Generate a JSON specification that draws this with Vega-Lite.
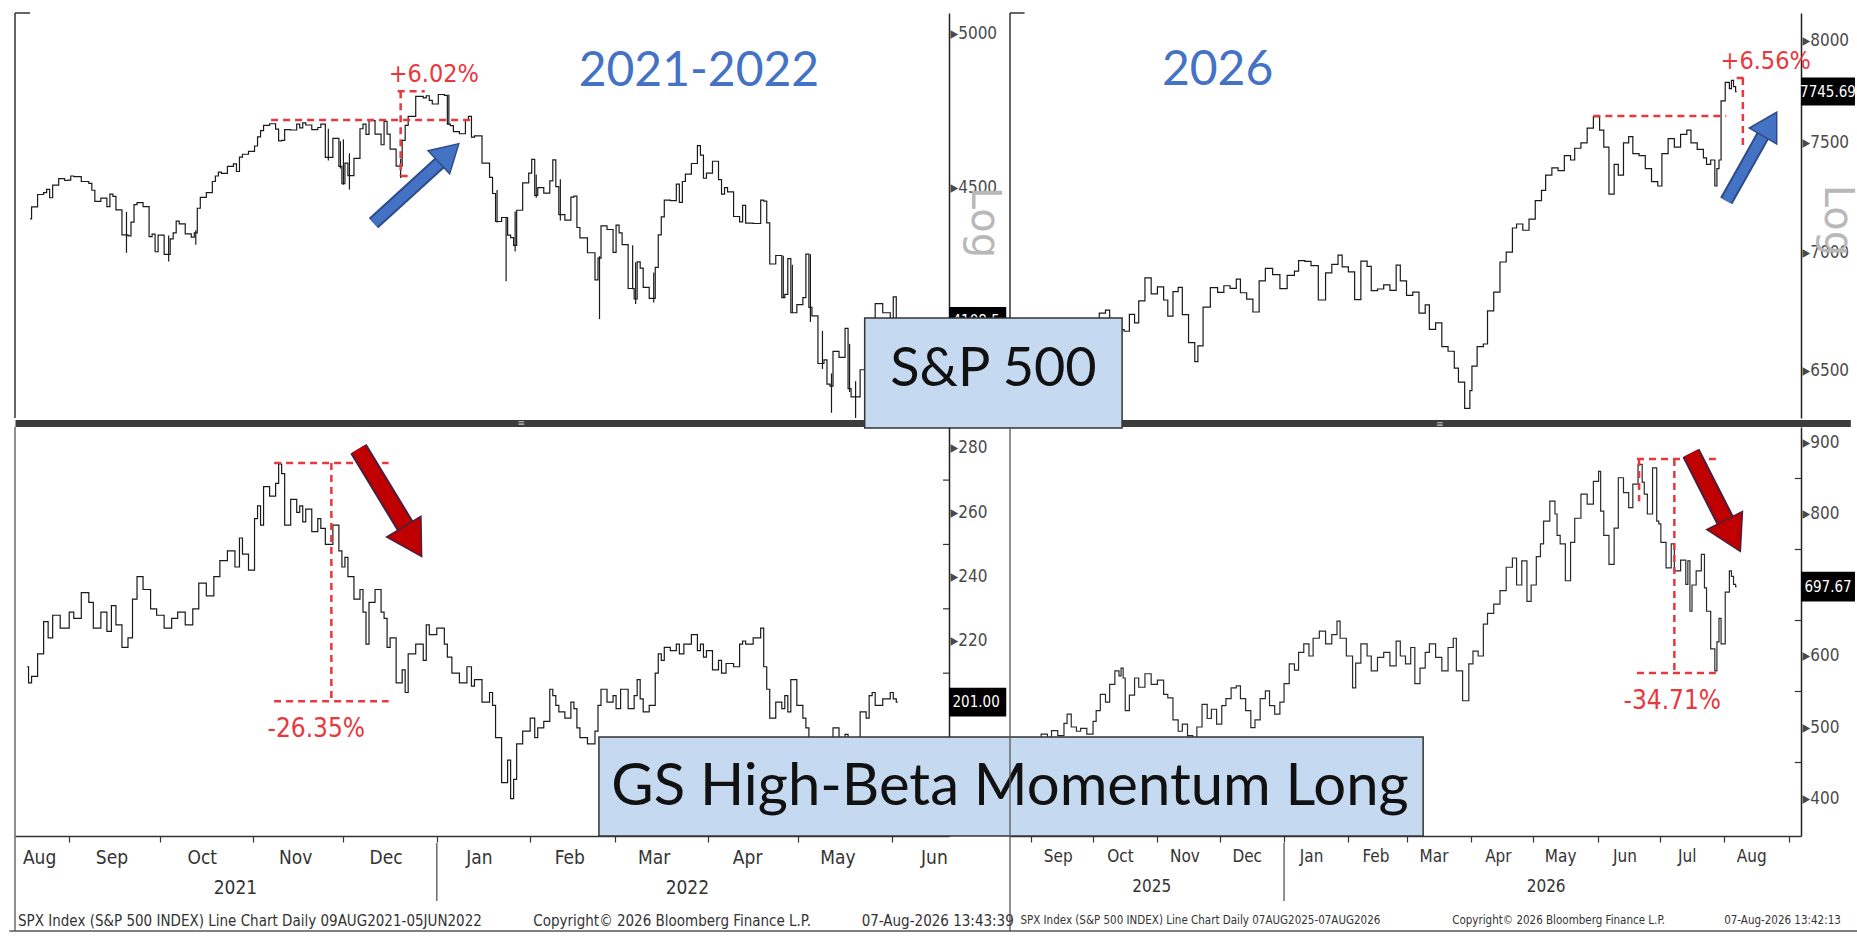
{
  "$schema": "https://vega.github.io/schema/vega-lite/v6.json",
  "background": "white",
  "padding": {"left": 8, "top": 12, "right": 0, "bottom": 0},
  "autosize": {"type": "pad"},
  "config": {"view": {"stroke": null}, "axis": {"grid": false, "labelOverlap": false}},
  "datasets": {
    "spx21": [
      {"d":"2021-08-19","v":4406},{"d":"2021-08-20","v":4442},{"d":"2021-08-23","v":4480},{"d":"2021-08-24","v":4486},{"d":"2021-08-25","v":4496},{"d":"2021-08-26","v":4470},{"d":"2021-08-27","v":4509},{"d":"2021-08-30","v":4529},{"d":"2021-08-31","v":4523},
      {"d":"2021-09-01","v":4524},{"d":"2021-09-02","v":4537},{"d":"2021-09-03","v":4535},{"d":"2021-09-07","v":4520},{"d":"2021-09-08","v":4514},{"d":"2021-09-09","v":4493},{"d":"2021-09-10","v":4459},{"d":"2021-09-13","v":4469},{"d":"2021-09-14","v":4443},{"d":"2021-09-15","v":4481},{"d":"2021-09-16","v":4474},{"d":"2021-09-17","v":4433},{"d":"2021-09-20","v":4358},{"d":"2021-09-21","v":4355},{"d":"2021-09-22","v":4396},{"d":"2021-09-23","v":4449},{"d":"2021-09-24","v":4455},{"d":"2021-09-27","v":4443},{"d":"2021-09-28","v":4353},{"d":"2021-09-29","v":4360},{"d":"2021-09-30","v":4308},
      {"d":"2021-10-01","v":4357},{"d":"2021-10-04","v":4300},{"d":"2021-10-05","v":4346},{"d":"2021-10-06","v":4364},{"d":"2021-10-07","v":4399},{"d":"2021-10-08","v":4391},{"d":"2021-10-11","v":4361},{"d":"2021-10-12","v":4351},{"d":"2021-10-13","v":4364},{"d":"2021-10-14","v":4438},{"d":"2021-10-15","v":4471},{"d":"2021-10-18","v":4486},{"d":"2021-10-19","v":4520},{"d":"2021-10-20","v":4537},{"d":"2021-10-21","v":4549},{"d":"2021-10-22","v":4545},{"d":"2021-10-25","v":4567},{"d":"2021-10-26","v":4575},{"d":"2021-10-27","v":4551},{"d":"2021-10-28","v":4596},{"d":"2021-10-29","v":4605},
      {"d":"2021-11-01","v":4614},{"d":"2021-11-02","v":4631},{"d":"2021-11-03","v":4660},{"d":"2021-11-04","v":4680},{"d":"2021-11-05","v":4697},{"d":"2021-11-08","v":4702},{"d":"2021-11-09","v":4685},{"d":"2021-11-10","v":4647},{"d":"2021-11-11","v":4649},{"d":"2021-11-12","v":4683},{"d":"2021-11-15","v":4682},{"d":"2021-11-16","v":4701},{"d":"2021-11-17","v":4689},{"d":"2021-11-18","v":4705},{"d":"2021-11-19","v":4698},{"d":"2021-11-22","v":4683},{"d":"2021-11-23","v":4690},{"d":"2021-11-24","v":4701},{"d":"2021-11-26","v":4595},{"d":"2021-11-29","v":4655},{"d":"2021-11-30","v":4567},
      {"d":"2021-12-01","v":4513},{"d":"2021-12-02","v":4577},{"d":"2021-12-03","v":4538},{"d":"2021-12-06","v":4592},{"d":"2021-12-07","v":4686},{"d":"2021-12-08","v":4701},{"d":"2021-12-09","v":4668},{"d":"2021-12-10","v":4712},{"d":"2021-12-13","v":4669},{"d":"2021-12-14","v":4635},{"d":"2021-12-15","v":4710},{"d":"2021-12-16","v":4669},{"d":"2021-12-17","v":4621},{"d":"2021-12-20","v":4568},{"d":"2021-12-21","v":4649},{"d":"2021-12-22","v":4697},{"d":"2021-12-23","v":4726},{"d":"2021-12-27","v":4791},{"d":"2021-12-28","v":4786},{"d":"2021-12-29","v":4793},{"d":"2021-12-30","v":4778},{"d":"2021-12-31","v":4766},
      {"d":"2022-01-03","v":4797},{"d":"2022-01-04","v":4794},{"d":"2022-01-05","v":4701},{"d":"2022-01-06","v":4696},{"d":"2022-01-07","v":4677},{"d":"2022-01-10","v":4670},{"d":"2022-01-11","v":4713},{"d":"2022-01-12","v":4726},{"d":"2022-01-13","v":4659},{"d":"2022-01-14","v":4663},{"d":"2022-01-18","v":4577},{"d":"2022-01-19","v":4533},{"d":"2022-01-20","v":4483},{"d":"2022-01-21","v":4398},{"d":"2022-01-24","v":4410},{"d":"2022-01-25","v":4357},{"d":"2022-01-26","v":4350},{"d":"2022-01-27","v":4327},{"d":"2022-01-28","v":4432},{"d":"2022-01-31","v":4516},
      {"d":"2022-02-01","v":4546},{"d":"2022-02-02","v":4589},{"d":"2022-02-03","v":4477},{"d":"2022-02-04","v":4501},{"d":"2022-02-07","v":4484},{"d":"2022-02-08","v":4522},{"d":"2022-02-09","v":4587},{"d":"2022-02-10","v":4504},{"d":"2022-02-11","v":4419},{"d":"2022-02-14","v":4402},{"d":"2022-02-15","v":4472},{"d":"2022-02-16","v":4475},{"d":"2022-02-17","v":4380},{"d":"2022-02-18","v":4349},{"d":"2022-02-22","v":4305},{"d":"2022-02-23","v":4226},{"d":"2022-02-24","v":4289},{"d":"2022-02-25","v":4385},{"d":"2022-02-28","v":4374},
      {"d":"2022-03-01","v":4306},{"d":"2022-03-02","v":4387},{"d":"2022-03-03","v":4364},{"d":"2022-03-04","v":4329},{"d":"2022-03-07","v":4201},{"d":"2022-03-08","v":4171},{"d":"2022-03-09","v":4278},{"d":"2022-03-10","v":4260},{"d":"2022-03-11","v":4204},{"d":"2022-03-14","v":4173},{"d":"2022-03-15","v":4262},{"d":"2022-03-16","v":4358},{"d":"2022-03-17","v":4412},{"d":"2022-03-18","v":4463},{"d":"2022-03-21","v":4461},{"d":"2022-03-22","v":4512},{"d":"2022-03-23","v":4456},{"d":"2022-03-24","v":4520},{"d":"2022-03-25","v":4543},{"d":"2022-03-28","v":4576},{"d":"2022-03-29","v":4632},{"d":"2022-03-30","v":4602},{"d":"2022-03-31","v":4530},
      {"d":"2022-04-01","v":4546},{"d":"2022-04-04","v":4583},{"d":"2022-04-05","v":4526},{"d":"2022-04-06","v":4481},{"d":"2022-04-07","v":4501},{"d":"2022-04-08","v":4488},{"d":"2022-04-11","v":4413},{"d":"2022-04-12","v":4397},{"d":"2022-04-13","v":4447},{"d":"2022-04-14","v":4393},{"d":"2022-04-18","v":4392},{"d":"2022-04-19","v":4463},{"d":"2022-04-20","v":4460},{"d":"2022-04-21","v":4394},{"d":"2022-04-22","v":4272},{"d":"2022-04-25","v":4297},{"d":"2022-04-26","v":4175},{"d":"2022-04-27","v":4184},{"d":"2022-04-28","v":4288},{"d":"2022-04-29","v":4132},
      {"d":"2022-05-02","v":4155},{"d":"2022-05-03","v":4175},{"d":"2022-05-04","v":4301},{"d":"2022-05-05","v":4147},{"d":"2022-05-06","v":4123},{"d":"2022-05-09","v":3991},{"d":"2022-05-10","v":4001},{"d":"2022-05-11","v":3935},{"d":"2022-05-12","v":3930},{"d":"2022-05-13","v":4024},{"d":"2022-05-16","v":4008},{"d":"2022-05-17","v":4088},{"d":"2022-05-18","v":3923},{"d":"2022-05-19","v":3901},{"d":"2022-05-20","v":3901},{"d":"2022-05-23","v":3974},{"d":"2022-05-24","v":3941},{"d":"2022-05-25","v":3979},{"d":"2022-05-26","v":4058},{"d":"2022-05-27","v":4158},{"d":"2022-05-31","v":4132},
      {"d":"2022-06-01","v":4101},{"d":"2022-06-02","v":4177},{"d":"2022-06-03","v":4108.5}
    ],
    "spx21range": [
      {"d":"2021-09-20","v":4305,"v2":4427},{"d":"2021-10-04","v":4279,"v2":4356},{"d":"2021-10-13","v":4329,"v2":4372},{"d":"2021-11-26","v":4585,"v2":4686},{"d":"2021-11-30","v":4560,"v2":4646},{"d":"2021-12-01","v":4510,"v2":4652},{"d":"2021-12-03","v":4495,"v2":4608},{"d":"2021-12-20","v":4531,"v2":4591},
      {"d":"2022-01-05","v":4700,"v2":4797},{"d":"2022-01-21","v":4395,"v2":4494},{"d":"2022-01-24","v":4222,"v2":4411},{"d":"2022-01-27","v":4309,"v2":4428},{"d":"2022-02-03","v":4470,"v2":4542},{"d":"2022-02-11","v":4401,"v2":4527},{"d":"2022-02-24","v":4114,"v2":4295},{"d":"2022-03-07","v":4199,"v2":4327},{"d":"2022-03-08","v":4157,"v2":4277},{"d":"2022-03-14","v":4161,"v2":4247},
      {"d":"2022-04-26","v":4175,"v2":4296},{"d":"2022-04-29","v":4131,"v2":4270},{"d":"2022-05-05","v":4106,"v2":4301},{"d":"2022-05-09","v":3976,"v2":4081},{"d":"2022-05-12","v":3859,"v2":3964},{"d":"2022-05-18","v":3914,"v2":4045},{"d":"2022-05-20","v":3810,"v2":3943},{"d":"2022-05-26","v":3967,"v2":4076}
    ],
    "gs21": [
      {"d":"2021-08-18","v":212},{"d":"2021-08-19","v":207},{"d":"2021-08-20","v":209},{"d":"2021-08-23","v":216},{"d":"2021-08-24","v":226},{"d":"2021-08-26","v":221},{"d":"2021-08-27","v":228},{"d":"2021-08-31","v":224},
      {"d":"2021-09-02","v":229},{"d":"2021-09-03","v":227},{"d":"2021-09-07","v":235},{"d":"2021-09-08","v":232},{"d":"2021-09-10","v":224},{"d":"2021-09-13","v":229},{"d":"2021-09-14","v":223},{"d":"2021-09-16","v":231},{"d":"2021-09-17","v":225},{"d":"2021-09-20","v":218},{"d":"2021-09-21","v":221},{"d":"2021-09-23","v":233},{"d":"2021-09-24","v":240},{"d":"2021-09-27","v":236},{"d":"2021-09-29","v":230},
      {"d":"2021-10-01","v":228},{"d":"2021-10-04","v":224},{"d":"2021-10-06","v":227},{"d":"2021-10-08","v":229},{"d":"2021-10-11","v":225},{"d":"2021-10-13","v":230},{"d":"2021-10-15","v":238},{"d":"2021-10-18","v":234},{"d":"2021-10-20","v":240},{"d":"2021-10-22","v":245},{"d":"2021-10-25","v":248},{"d":"2021-10-27","v":243},{"d":"2021-10-28","v":252},{"d":"2021-10-29","v":247},
      {"d":"2021-11-01","v":242},{"d":"2021-11-02","v":258},{"d":"2021-11-03","v":262},{"d":"2021-11-04","v":256},{"d":"2021-11-05","v":268},{"d":"2021-11-08","v":265},{"d":"2021-11-09","v":269},{"d":"2021-11-10","v":275},{"d":"2021-11-11","v":272},{"d":"2021-11-12","v":256},{"d":"2021-11-15","v":264},{"d":"2021-11-16","v":260},{"d":"2021-11-17","v":262},{"d":"2021-11-18","v":257},{"d":"2021-11-19","v":261},{"d":"2021-11-22","v":254},{"d":"2021-11-23","v":258},{"d":"2021-11-24","v":255},{"d":"2021-11-26","v":250},{"d":"2021-11-29","v":256},{"d":"2021-11-30","v":248},
      {"d":"2021-12-01","v":243},{"d":"2021-12-02","v":246},{"d":"2021-12-03","v":240},{"d":"2021-12-06","v":233},{"d":"2021-12-07","v":236},{"d":"2021-12-08","v":229},{"d":"2021-12-09","v":219},{"d":"2021-12-10","v":232},{"d":"2021-12-13","v":236},{"d":"2021-12-14","v":229},{"d":"2021-12-15","v":227},{"d":"2021-12-16","v":218},{"d":"2021-12-17","v":221},{"d":"2021-12-20","v":207},{"d":"2021-12-21","v":211},{"d":"2021-12-22","v":204},{"d":"2021-12-23","v":216},{"d":"2021-12-27","v":219},{"d":"2021-12-28","v":214},{"d":"2021-12-29","v":225},{"d":"2021-12-30","v":222},
      {"d":"2022-01-03","v":224},{"d":"2022-01-04","v":219},{"d":"2022-01-05","v":215},{"d":"2022-01-07","v":210},{"d":"2022-01-10","v":207},{"d":"2022-01-12","v":212},{"d":"2022-01-13","v":206},{"d":"2022-01-14","v":208},{"d":"2022-01-18","v":201},{"d":"2022-01-19","v":204},{"d":"2022-01-20","v":200},{"d":"2022-01-21","v":190},{"d":"2022-01-24","v":176},{"d":"2022-01-25","v":183},{"d":"2022-01-26","v":171},{"d":"2022-01-27","v":177},{"d":"2022-01-28","v":188},{"d":"2022-01-31","v":192},
      {"d":"2022-02-02","v":196},{"d":"2022-02-03","v":190},{"d":"2022-02-04","v":193},{"d":"2022-02-07","v":195},{"d":"2022-02-08","v":205},{"d":"2022-02-09","v":203},{"d":"2022-02-10","v":200},{"d":"2022-02-11","v":198},{"d":"2022-02-14","v":196},{"d":"2022-02-15","v":201},{"d":"2022-02-16","v":199},{"d":"2022-02-17","v":193},{"d":"2022-02-18","v":190},{"d":"2022-02-22","v":188},{"d":"2022-02-23","v":192},{"d":"2022-02-24","v":200},{"d":"2022-02-25","v":205},{"d":"2022-02-28","v":201},
      {"d":"2022-03-01","v":203},{"d":"2022-03-02","v":199},{"d":"2022-03-04","v":205},{"d":"2022-03-07","v":199},{"d":"2022-03-08","v":203},{"d":"2022-03-09","v":208},{"d":"2022-03-10","v":202},{"d":"2022-03-11","v":198},{"d":"2022-03-14","v":200},{"d":"2022-03-15","v":210},{"d":"2022-03-16","v":216},{"d":"2022-03-17","v":214},{"d":"2022-03-18","v":218},{"d":"2022-03-21","v":217},{"d":"2022-03-22","v":219},{"d":"2022-03-23","v":216},{"d":"2022-03-25","v":219},{"d":"2022-03-28","v":222},{"d":"2022-03-29","v":217},{"d":"2022-03-30","v":219},{"d":"2022-03-31","v":215},
      {"d":"2022-04-01","v":217},{"d":"2022-04-04","v":211},{"d":"2022-04-05","v":214},{"d":"2022-04-06","v":210},{"d":"2022-04-08","v":213},{"d":"2022-04-11","v":212},{"d":"2022-04-12","v":219},{"d":"2022-04-13","v":220},{"d":"2022-04-14","v":219},{"d":"2022-04-18","v":221},{"d":"2022-04-19","v":224},{"d":"2022-04-20","v":212},{"d":"2022-04-21","v":205},{"d":"2022-04-22","v":196},{"d":"2022-04-25","v":201},{"d":"2022-04-26","v":199},{"d":"2022-04-27","v":203},{"d":"2022-04-28","v":198},{"d":"2022-04-29","v":208},
      {"d":"2022-05-02","v":200},{"d":"2022-05-03","v":196},{"d":"2022-05-04","v":193},{"d":"2022-05-05","v":188},{"d":"2022-05-06","v":184},{"d":"2022-05-09","v":178},{"d":"2022-05-10","v":180},{"d":"2022-05-11","v":176},{"d":"2022-05-12","v":190},{"d":"2022-05-13","v":193},{"d":"2022-05-16","v":189},{"d":"2022-05-17","v":191},{"d":"2022-05-18","v":187},{"d":"2022-05-19","v":189},{"d":"2022-05-20","v":188},{"d":"2022-05-23","v":198},{"d":"2022-05-24","v":196},{"d":"2022-05-25","v":203},{"d":"2022-05-26","v":204},{"d":"2022-05-27","v":200},{"d":"2022-05-31","v":202},
      {"d":"2022-06-01","v":204},{"d":"2022-06-02","v":202},{"d":"2022-06-03","v":201}
    ],
    "spx26": [
      {"d":"2025-08-22","v":6467},{"d":"2025-08-26","v":6465},{"d":"2025-08-28","v":6502},{"d":"2025-09-02","v":6416},{"d":"2025-09-04","v":6502},{"d":"2025-09-08","v":6495},{"d":"2025-09-10","v":6532},{"d":"2025-09-12","v":6584},{"d":"2025-09-16","v":6607},{"d":"2025-09-18","v":6632},{"d":"2025-09-22","v":6693},{"d":"2025-09-24","v":6637},{"d":"2025-09-26","v":6644},{"d":"2025-09-30","v":6688},
      {"d":"2025-10-02","v":6715},{"d":"2025-10-06","v":6740},{"d":"2025-10-08","v":6753},{"d":"2025-10-10","v":6552},{"d":"2025-10-13","v":6654},{"d":"2025-10-15","v":6671},{"d":"2025-10-17","v":6664},{"d":"2025-10-20","v":6735},{"d":"2025-10-22","v":6699},{"d":"2025-10-24","v":6792},{"d":"2025-10-28","v":6891},{"d":"2025-10-30","v":6822},
      {"d":"2025-11-03","v":6852},{"d":"2025-11-05","v":6796},{"d":"2025-11-07","v":6728},{"d":"2025-11-10","v":6832},{"d":"2025-11-12","v":6850},{"d":"2025-11-14","v":6734},{"d":"2025-11-18","v":6617},{"d":"2025-11-20","v":6538},{"d":"2025-11-21","v":6603},{"d":"2025-11-25","v":6766},{"d":"2025-11-28","v":6849},
      {"d":"2025-12-02","v":6829},{"d":"2025-12-04","v":6857},{"d":"2025-12-08","v":6846},{"d":"2025-12-10","v":6886},{"d":"2025-12-12","v":6827},{"d":"2025-12-16","v":6800},{"d":"2025-12-18","v":6745},{"d":"2025-12-22","v":6878},{"d":"2025-12-24","v":6932},{"d":"2025-12-29","v":6905},{"d":"2025-12-31","v":6845},
      {"d":"2026-01-05","v":6902},{"d":"2026-01-07","v":6920},{"d":"2026-01-09","v":6966},{"d":"2026-01-13","v":6963},{"d":"2026-01-15","v":6944},{"d":"2026-01-20","v":6796},{"d":"2026-01-22","v":6913},{"d":"2026-01-26","v":6950},{"d":"2026-01-28","v":6990},{"d":"2026-01-30","v":6939},
      {"d":"2026-02-03","v":6917},{"d":"2026-02-05","v":6798},{"d":"2026-02-09","v":6964},{"d":"2026-02-11","v":6941},{"d":"2026-02-13","v":6836},{"d":"2026-02-17","v":6843},{"d":"2026-02-19","v":6861},{"d":"2026-02-23","v":6837},{"d":"2026-02-25","v":6946},{"d":"2026-02-27","v":6878},
      {"d":"2026-03-03","v":6816},{"d":"2026-03-05","v":6830},{"d":"2026-03-09","v":6740},{"d":"2026-03-11","v":6775},{"d":"2026-03-13","v":6672},{"d":"2026-03-17","v":6699},{"d":"2026-03-19","v":6600},{"d":"2026-03-23","v":6581},{"d":"2026-03-25","v":6512},{"d":"2026-03-27","v":6455},{"d":"2026-03-31","v":6349},
      {"d":"2026-04-01","v":6420},{"d":"2026-04-02","v":6520},{"d":"2026-04-06","v":6600},{"d":"2026-04-08","v":6611},{"d":"2026-04-10","v":6750},{"d":"2026-04-14","v":6830},{"d":"2026-04-16","v":6960},{"d":"2026-04-20","v":7003},{"d":"2026-04-22","v":7110},{"d":"2026-04-24","v":7128},{"d":"2026-04-28","v":7100},{"d":"2026-04-30","v":7150},
      {"d":"2026-05-04","v":7233},{"d":"2026-05-06","v":7280},{"d":"2026-05-08","v":7350},{"d":"2026-05-12","v":7383},{"d":"2026-05-14","v":7371},{"d":"2026-05-18","v":7440},{"d":"2026-05-20","v":7420},{"d":"2026-05-22","v":7475},{"d":"2026-05-26","v":7500},{"d":"2026-05-28","v":7570},
      {"d":"2026-06-01","v":7625},{"d":"2026-06-03","v":7560},{"d":"2026-06-05","v":7480},{"d":"2026-06-08","v":7263},{"d":"2026-06-10","v":7400},{"d":"2026-06-12","v":7350},{"d":"2026-06-15","v":7500},{"d":"2026-06-17","v":7530},{"d":"2026-06-19","v":7450},{"d":"2026-06-23","v":7440},{"d":"2026-06-25","v":7380},{"d":"2026-06-29","v":7320},
      {"d":"2026-07-01","v":7300},{"d":"2026-07-03","v":7450},{"d":"2026-07-07","v":7520},{"d":"2026-07-09","v":7480},{"d":"2026-07-13","v":7540},{"d":"2026-07-15","v":7560},{"d":"2026-07-17","v":7500},{"d":"2026-07-21","v":7470},{"d":"2026-07-23","v":7430},{"d":"2026-07-24","v":7400},{"d":"2026-07-27","v":7420},{"d":"2026-07-28","v":7300},{"d":"2026-07-29","v":7380},{"d":"2026-07-30","v":7420},{"d":"2026-07-31","v":7700},
      {"d":"2026-08-03","v":7790},{"d":"2026-08-04","v":7760},{"d":"2026-08-05","v":7800},{"d":"2026-08-06","v":7770},{"d":"2026-08-07","v":7745.69}
    ],
    "gs26": [
      {"d":"2025-08-22","v":475},{"d":"2025-08-26","v":470},{"d":"2025-08-28","v":482},{"d":"2025-09-02","v":465},{"d":"2025-09-04","v":478},{"d":"2025-09-08","v":490},{"d":"2025-09-10","v":484},{"d":"2025-09-12","v":495},{"d":"2025-09-16","v":488},{"d":"2025-09-18","v":505},{"d":"2025-09-19","v":518},{"d":"2025-09-22","v":500},{"d":"2025-09-24","v":494},{"d":"2025-09-26","v":498},{"d":"2025-09-30","v":490},
      {"d":"2025-10-02","v":508},{"d":"2025-10-03","v":523},{"d":"2025-10-06","v":546},{"d":"2025-10-08","v":535},{"d":"2025-10-10","v":560},{"d":"2025-10-13","v":579},{"d":"2025-10-14","v":572},{"d":"2025-10-15","v":583},{"d":"2025-10-16","v":569},{"d":"2025-10-17","v":523},{"d":"2025-10-20","v":545},{"d":"2025-10-22","v":569},{"d":"2025-10-24","v":556},{"d":"2025-10-28","v":575},{"d":"2025-10-30","v":560},
      {"d":"2025-11-03","v":566},{"d":"2025-11-05","v":546},{"d":"2025-11-07","v":541},{"d":"2025-11-10","v":510},{"d":"2025-11-12","v":494},{"d":"2025-11-14","v":504},{"d":"2025-11-17","v":488},{"d":"2025-11-19","v":485},{"d":"2025-11-21","v":500},{"d":"2025-11-24","v":532},{"d":"2025-11-26","v":512},{"d":"2025-11-28","v":525},
      {"d":"2025-12-01","v":504},{"d":"2025-12-03","v":530},{"d":"2025-12-05","v":540},{"d":"2025-12-08","v":555},{"d":"2025-12-10","v":558},{"d":"2025-12-12","v":540},{"d":"2025-12-15","v":523},{"d":"2025-12-17","v":499},{"d":"2025-12-19","v":510},{"d":"2025-12-22","v":540},{"d":"2025-12-24","v":551},{"d":"2025-12-26","v":530},{"d":"2025-12-29","v":518},{"d":"2025-12-31","v":535},
      {"d":"2026-01-02","v":561},{"d":"2026-01-05","v":589},{"d":"2026-01-07","v":580},{"d":"2026-01-09","v":605},{"d":"2026-01-12","v":617},{"d":"2026-01-14","v":600},{"d":"2026-01-16","v":625},{"d":"2026-01-20","v":635},{"d":"2026-01-22","v":617},{"d":"2026-01-26","v":630},{"d":"2026-01-27","v":649},{"d":"2026-01-29","v":625},
      {"d":"2026-02-02","v":600},{"d":"2026-02-04","v":555},{"d":"2026-02-05","v":590},{"d":"2026-02-09","v":617},{"d":"2026-02-11","v":600},{"d":"2026-02-13","v":579},{"d":"2026-02-17","v":598},{"d":"2026-02-19","v":605},{"d":"2026-02-23","v":586},{"d":"2026-02-25","v":621},{"d":"2026-02-27","v":600},
      {"d":"2026-03-02","v":589},{"d":"2026-03-04","v":612},{"d":"2026-03-06","v":561},{"d":"2026-03-09","v":583},{"d":"2026-03-11","v":605},{"d":"2026-03-13","v":617},{"d":"2026-03-17","v":598},{"d":"2026-03-19","v":579},{"d":"2026-03-23","v":612},{"d":"2026-03-24","v":625},{"d":"2026-03-26","v":579},{"d":"2026-03-30","v":537},
      {"d":"2026-04-01","v":589},{"d":"2026-04-03","v":607},{"d":"2026-04-06","v":600},{"d":"2026-04-08","v":645},{"d":"2026-04-10","v":660},{"d":"2026-04-14","v":673},{"d":"2026-04-16","v":692},{"d":"2026-04-20","v":725},{"d":"2026-04-22","v":738},{"d":"2026-04-24","v":700},{"d":"2026-04-27","v":734},{"d":"2026-04-29","v":677},
      {"d":"2026-05-01","v":700},{"d":"2026-05-04","v":740},{"d":"2026-05-05","v":758},{"d":"2026-05-07","v":790},{"d":"2026-05-11","v":818},{"d":"2026-05-12","v":800},{"d":"2026-05-13","v":770},{"d":"2026-05-15","v":758},{"d":"2026-05-18","v":706},{"d":"2026-05-20","v":760},{"d":"2026-05-22","v":794},{"d":"2026-05-26","v":828},{"d":"2026-05-28","v":814},
      {"d":"2026-06-01","v":846},{"d":"2026-06-02","v":860},{"d":"2026-06-03","v":804},{"d":"2026-06-05","v":770},{"d":"2026-06-08","v":729},{"d":"2026-06-10","v":780},{"d":"2026-06-12","v":851},{"d":"2026-06-15","v":830},{"d":"2026-06-17","v":809},{"d":"2026-06-19","v":842},{"d":"2026-06-22","v":870},{"d":"2026-06-23","v":845},{"d":"2026-06-24","v":828},{"d":"2026-06-26","v":800},{"d":"2026-06-29","v":865},{"d":"2026-06-30","v":790},
      {"d":"2026-07-01","v":786},{"d":"2026-07-02","v":760},{"d":"2026-07-06","v":724},{"d":"2026-07-07","v":758},{"d":"2026-07-09","v":720},{"d":"2026-07-13","v":735},{"d":"2026-07-14","v":701},{"d":"2026-07-15","v":734},{"d":"2026-07-16","v":663},{"d":"2026-07-17","v":700},{"d":"2026-07-20","v":720},{"d":"2026-07-22","v":743},{"d":"2026-07-23","v":696},{"d":"2026-07-24","v":663},{"d":"2026-07-27","v":610},{"d":"2026-07-28","v":579},{"d":"2026-07-29","v":620},{"d":"2026-07-30","v":653},{"d":"2026-07-31","v":617},
      {"d":"2026-08-03","v":690},{"d":"2026-08-04","v":720},{"d":"2026-08-05","v":712},{"d":"2026-08-06","v":701},{"d":"2026-08-07","v":697.67}
    ]
  },
  "columns": 2,
  "spacing": {"column": 61, "row": 9},
  "bounds": "flush",
  "concat": [
    {
      "width": 934,
      "height": 405,
      "encoding": {
        "x": {"field": "d", "type": "temporal", "scale": {"domain": [{"year": 2021, "month": 8, "date": 14, "utc": true}, {"year": 2022, "month": 6, "date": 20, "utc": true}]},
          "axis": {"orient": "bottom", "labels": false, "ticks": false, "domainColor": "#3c3c3c", "domainWidth": 7, "offset": 5, "title": null}},
        "y": {"field": "v", "type": "quantitative", "scale": {"type": "log", "domain": [3845, 5072], "nice": false},
          "axis": {"orient": "right", "values": [4000, 4500, 5000], "format": "d", "labelExpr": "'▸' + datum.label", "ticks": false, "labelPadding": 1, "labelFont": "Liberation Sans Narrow, DejaVu Sans Condensed, sans-serif", "labelFontSize": 17, "labelColor": "#4a4a4a", "labelBaseline": "middle", "domainColor": "#222", "domainWidth": 1.5, "title": "Log", "titleFont": "DejaVu Sans", "titleFontSize": 40, "titleFontWeight": "normal", "titleColor": "#b8b8b8", "titleAngle": 90, "titleX": 34, "titleY": 209, "titleAlign": "center", "titleBaseline": "middle"}}
      },
      "layer": [
        {"data": {"name": "spx21"}, "mark": {"type": "line", "interpolate": "step", "color": "#1a1a1a", "strokeWidth": 1.2, "clip": true}},
        {"data": {"name": "spx21range"}, "mark": {"type": "rule", "color": "#1a1a1a", "strokeWidth": 1.2, "clip": true},
          "encoding": {"y2": {"field": "v2"}}},
        {"data": {"values": [{"d": "2021-08-14", "d2": "2021-08-14", "v": 3845, "v2": 5072}, {"d": "2021-08-14", "d2": "2021-08-19", "v": 5072, "v2": 5072}]},
          "mark": {"type": "rule", "color": "#333", "strokeWidth": 1.5},
          "encoding": {"x2": {"field": "d2"}, "y2": {"field": "v2"}}},
        {"data": {"values": [{"d": "2022-01-29", "v": 3832, "t": "≡"}]},
          "mark": {"type": "text", "font": "DejaVu Sans", "fontSize": 9, "color": "#bbbbbb", "align": "center", "baseline": "middle"},
          "encoding": {"text": {"field": "t"}}},
        {"data": {"values": [{"d": "2021-11-07", "d2": "2022-01-13", "v": 4714, "v2": 4714}, {"d": "2021-12-19", "d2": "2021-12-28", "v": 4808, "v2": 4808}, {"d": "2021-12-20", "d2": "2021-12-20", "v": 4808, "v2": 4537}, {"d": "2021-12-20", "d2": "2021-12-24", "v": 4537, "v2": 4537}]},
          "mark": {"type": "rule", "color": "#e8383d", "strokeWidth": 2.5, "strokeDash": [7, 5]},
          "encoding": {"x2": {"field": "d2"}, "y2": {"field": "v2"}}},
        {"data": {"values": [{"d": "2021-12-11", "d2": "2022-01-03", "v": 4393, "v2": 4587}]},
          "mark": {"type": "rule", "color": "#2e4b87", "strokeWidth": 14, "strokeCap": "butt"},
          "encoding": {"x2": {"field": "d2"}, "y2": {"field": "v2"}}},
        {"data": {"values": [{"d": "2021-12-11", "d2": "2022-01-03", "v": 4393, "v2": 4587}]},
          "mark": {"type": "rule", "color": "#4472c4", "strokeWidth": 10, "strokeCap": "butt"},
          "encoding": {"x2": {"field": "d2"}, "y2": {"field": "v2"}}},
        {"data": {"values": [{"d": "2022-01-05", "v": 4609}]},
          "mark": {"type": "point", "shape": "triangle-up", "angle": 47, "size": 1000, "filled": true, "fill": "#4472c4", "stroke": "#2e4b87", "strokeWidth": 1.5, "opacity": 1}},
        {"data": {"values": [{"d": "2022-03-29", "v": 4871, "t": "2021-2022"}]},
          "mark": {"type": "text", "font": "Lato", "fontSize": 48, "color": "#4472c4", "align": "center", "baseline": "middle"},
          "encoding": {"text": {"field": "t"}}},
        {"data": {"values": [{"d": "2021-12-31", "v": 4865, "t": "+6.02%"}]},
          "mark": {"type": "text", "font": "Liberation Sans Narrow, DejaVu Sans Condensed, sans-serif", "fontSize": 25, "color": "#e8383d", "align": "center", "baseline": "middle"},
          "encoding": {"text": {"field": "t"}}},
        {"data": {"values": [{"d": "2022-06-20", "d2": "2022-07-09", "v": 4068, "v2": 4148}]},
          "mark": {"type": "rect", "color": "#000"},
          "encoding": {"x2": {"field": "d2"}, "y2": {"field": "v2"}}},
        {"data": {"values": [{"d": "2022-06-29", "v": 4108.5, "t": "4108.5"}]},
          "mark": {"type": "text", "font": "Liberation Sans Narrow, DejaVu Sans Condensed, sans-serif", "fontSize": 15, "color": "white", "align": "center", "baseline": "middle"},
          "encoding": {"text": {"field": "t"}}}
      ]
    },
    {
      "width": 791,
      "height": 405,
      "encoding": {
        "x": {"field": "d", "type": "temporal", "scale": {"domain": [{"year": 2025, "month": 8, "date": 22, "utc": true}, {"year": 2026, "month": 9, "date": 7, "utc": true}]},
          "axis": {"orient": "bottom", "labels": false, "ticks": false, "domainColor": "#3c3c3c", "domainWidth": 7, "offset": 5, "title": null}},
        "y": {"field": "v", "type": "quantitative", "scale": {"type": "log", "domain": [6311, 8137], "nice": false},
          "axis": {"orient": "right", "values": [6500, 7000, 7500, 8000], "format": "d", "labelExpr": "'▸' + datum.label", "ticks": false, "labelPadding": 1, "labelFont": "Liberation Sans Narrow, DejaVu Sans Condensed, sans-serif", "labelFontSize": 17, "labelColor": "#4a4a4a", "labelBaseline": "middle", "domainColor": "#222", "domainWidth": 1.5, "title": "Log", "titleFont": "DejaVu Sans", "titleFontSize": 40, "titleFontWeight": "normal", "titleColor": "#b8b8b8", "titleAngle": 90, "titleX": 35, "titleY": 207, "titleAlign": "center", "titleBaseline": "middle"}}
      },
      "layer": [
        {"data": {"name": "spx26"}, "mark": {"type": "line", "interpolate": "step", "color": "#1a1a1a", "strokeWidth": 1.2, "clip": true}},
        {"data": {"values": [{"d": "2025-08-22", "d2": "2025-08-22", "v": 6311, "v2": 8137}, {"d": "2025-08-22", "d2": "2025-08-29", "v": 8137, "v2": 8137}]},
          "mark": {"type": "rule", "color": "#333", "strokeWidth": 1.5},
          "encoding": {"x2": {"field": "d2"}, "y2": {"field": "v2"}}},
        {"data": {"values": [{"d": "2026-09-07", "d2": "2026-10-01", "v": 6289, "v2": 6289}]},
          "mark": {"type": "rule", "color": "#3c3c3c", "strokeWidth": 7},
          "encoding": {"x2": {"field": "d2"}, "y2": {"field": "v2"}}},
        {"data": {"values": [{"d": "2026-03-17", "v": 6289, "t": "≡"}]},
          "mark": {"type": "text", "font": "DejaVu Sans", "fontSize": 9, "color": "#bbbbbb", "align": "center", "baseline": "middle"},
          "encoding": {"text": {"field": "t"}}},
        {"data": {"values": [{"d": "2026-05-30", "d2": "2026-08-02", "v": 7628, "v2": 7628}, {"d": "2026-08-07", "d2": "2026-08-12", "v": 7812, "v2": 7812}, {"d": "2026-08-10", "d2": "2026-08-10", "v": 7812, "v2": 7476}]},
          "mark": {"type": "rule", "color": "#e8383d", "strokeWidth": 2.5, "strokeDash": [7, 5]},
          "encoding": {"x2": {"field": "d2"}, "y2": {"field": "v2"}}},
        {"data": {"values": [{"d": "2026-08-02", "d2": "2026-08-20", "v": 7232, "v2": 7540}]},
          "mark": {"type": "rule", "color": "#2e4b87", "strokeWidth": 14, "strokeCap": "butt"},
          "encoding": {"x2": {"field": "d2"}, "y2": {"field": "v2"}}},
        {"data": {"values": [{"d": "2026-08-02", "d2": "2026-08-20", "v": 7232, "v2": 7540}]},
          "mark": {"type": "rule", "color": "#4472c4", "strokeWidth": 10, "strokeCap": "butt"},
          "encoding": {"x2": {"field": "d2"}, "y2": {"field": "v2"}}},
        {"data": {"values": [{"d": "2026-08-23", "v": 7589}]},
          "mark": {"type": "point", "shape": "triangle-up", "angle": 30, "size": 1000, "filled": true, "fill": "#4472c4", "stroke": "#2e4b87", "strokeWidth": 1.5, "opacity": 1}},
        {"data": {"values": [{"d": "2025-11-30", "v": 7846, "t": "2026"}]},
          "mark": {"type": "text", "font": "Lato", "fontSize": 48, "color": "#4472c4", "align": "center", "baseline": "middle"},
          "encoding": {"text": {"field": "t"}}},
        {"data": {"values": [{"d": "2026-08-21", "v": 7896, "t": "+6.56%"}]},
          "mark": {"type": "text", "font": "Liberation Sans Narrow, DejaVu Sans Condensed, sans-serif", "fontSize": 25, "color": "#e8383d", "align": "center", "baseline": "middle"},
          "encoding": {"text": {"field": "t"}}},
        {"data": {"values": [{"d": "2026-09-07", "d2": "2026-10-03", "v": 7678, "v2": 7814}]},
          "mark": {"type": "rect", "color": "#000"},
          "encoding": {"x2": {"field": "d2"}, "y2": {"field": "v2"}}},
        {"data": {"values": [{"d": "2026-09-20", "v": 7745.69, "t": "7745.69"}]},
          "mark": {"type": "text", "font": "Liberation Sans Narrow, DejaVu Sans Condensed, sans-serif", "fontSize": 15, "color": "white", "align": "center", "baseline": "middle"},
          "encoding": {"text": {"field": "t"}}},
        {"data": {"values": [{"d": "2025-06-13", "d2": "2025-10-15", "v": 6720, "v2": 6272}]},
          "mark": {"type": "rect", "fill": "#c5d9f0", "stroke": "#333", "strokeWidth": 1.5},
          "encoding": {"x2": {"field": "d2"}, "y2": {"field": "v2"}}},
        {"data": {"values": [{"d": "2025-08-14", "v": 6504, "t": "S&P 500"}]},
          "mark": {"type": "text", "font": "Lato", "fontSize": 54, "color": "#111", "align": "center", "baseline": "middle"},
          "encoding": {"text": {"field": "t"}}}
      ]
    },
    {
      "width": 934,
      "height": 409,
      "encoding": {
        "x": {"field": "d", "type": "temporal", "scale": {"domain": [{"year": 2021, "month": 8, "date": 14, "utc": true}, {"year": 2022, "month": 6, "date": 20, "utc": true}]}, "axis": null},
        "y": {"field": "v", "type": "quantitative", "scale": {"domain": [159.4, 286.5], "nice": false, "zero": false},
          "axis": {"orient": "right", "values": [180, 200, 220, 240, 260, 280], "labelExpr": "'▸' + datum.label", "ticks": false, "labelPadding": 1, "labelFont": "Liberation Sans Narrow, DejaVu Sans Condensed, sans-serif", "labelFontSize": 17, "labelColor": "#4a4a4a", "labelBaseline": "middle", "domainColor": "#222", "domainWidth": 1.5, "title": null}}
      },
      "layer": [
        {"data": {"name": "gs21"}, "mark": {"type": "line", "interpolate": "step", "color": "#1a1a1a", "strokeWidth": 1.2, "clip": true},
          "encoding": {"x": {"field": "d", "type": "temporal", "scale": {"domain": [{"year": 2021, "month": 8, "date": 14, "utc": true}, {"year": 2022, "month": 6, "date": 20, "utc": true}]},
            "axis": {"orient": "bottom", "values": [{"year": 2021, "month": 9, "date": 1, "utc": true}, {"year": 2021, "month": 10, "date": 1, "utc": true}, {"year": 2021, "month": 11, "date": 1, "utc": true}, {"year": 2021, "month": 12, "date": 1, "utc": true}, {"year": 2022, "month": 1, "date": 1, "utc": true}, {"year": 2022, "month": 2, "date": 1, "utc": true}, {"year": 2022, "month": 3, "date": 1, "utc": true}, {"year": 2022, "month": 4, "date": 1, "utc": true}, {"year": 2022, "month": 5, "date": 1, "utc": true}, {"year": 2022, "month": 6, "date": 1, "utc": true}], "labels": false, "ticks": true, "tickSize": 6, "tickColor": "#333", "tickWidth": 1.2, "domainColor": "#333", "domainWidth": 1.5, "title": null}}}},
        {"data": {"values": [{"d": "2022-06-18", "d2": "2022-06-20", "v": 190, "v2": 190}, {"d": "2022-06-18", "d2": "2022-06-20", "v": 210, "v2": 210}, {"d": "2022-06-18", "d2": "2022-06-20", "v": 230, "v2": 230}, {"d": "2022-06-18", "d2": "2022-06-20", "v": 250, "v2": 250}, {"d": "2022-06-18", "d2": "2022-06-20", "v": 270, "v2": 270}]},
          "mark": {"type": "rule", "color": "#333", "strokeWidth": 1.2},
          "encoding": {"x2": {"field": "d2"}, "y2": {"field": "v2"}}},
        {"data": {"values": [{"d": "2021-11-08", "d2": "2021-12-16", "v": 275.3, "v2": 275.3}, {"d": "2021-11-08", "d2": "2021-12-16", "v": 201.3, "v2": 201.3}, {"d": "2021-11-27", "d2": "2021-11-27", "v": 275.3, "v2": 201.3}]},
          "mark": {"type": "rule", "color": "#e8383d", "strokeWidth": 2.5, "strokeDash": [7, 5]},
          "encoding": {"x": {"field": "d", "type": "temporal", "scale": {"domain": [{"year": 2021, "month": 8, "date": 14, "utc": true}, {"year": 2022, "month": 6, "date": 20, "utc": true}]},
            "axis": {"orient": "bottom", "values": [{"year": 2021, "month": 8, "date": 22, "utc": true}, {"year": 2021, "month": 9, "date": 15, "utc": true}, {"year": 2021, "month": 10, "date": 15, "utc": true}, {"year": 2021, "month": 11, "date": 15, "utc": true}, {"year": 2021, "month": 12, "date": 15, "utc": true}, {"year": 2022, "month": 1, "date": 15, "utc": true}, {"year": 2022, "month": 2, "date": 14, "utc": true}, {"year": 2022, "month": 3, "date": 14, "utc": true}, {"year": 2022, "month": 4, "date": 14, "utc": true}, {"year": 2022, "month": 5, "date": 14, "utc": true}, {"year": 2022, "month": 6, "date": 15, "utc": true}], "format": "%b", "ticks": false, "tickSize": 0, "domain": false, "labelPadding": 12, "labelFont": "Liberation Sans Narrow, DejaVu Sans Condensed, sans-serif", "labelFontSize": 19, "labelColor": "#333", "title": null}},
            "x2": {"field": "d2"}, "y2": {"field": "v2"}}},
        {"data": {"values": [{"d": "2021-12-06", "d2": "2021-12-22", "v": 279.7, "v2": 255.0}]},
          "mark": {"type": "rule", "color": "#4a1f3d", "strokeWidth": 19, "strokeCap": "butt"},
          "encoding": {"x2": {"field": "d2"}, "y2": {"field": "v2"}}},
        {"data": {"values": [{"d": "2021-12-06", "d2": "2021-12-22", "v": 279.7, "v2": 255.0}]},
          "mark": {"type": "rule", "color": "#c00000", "strokeWidth": 15, "strokeCap": "butt"},
          "encoding": {"x2": {"field": "d2"}, "y2": {"field": "v2"}}},
        {"data": {"values": [{"d": "2021-12-24", "v": 250.9}]},
          "mark": {"type": "point", "shape": "triangle-up", "angle": 149, "size": 1600, "filled": true, "fill": "#c00000", "stroke": "#4a1f3d", "strokeWidth": 1.5, "opacity": 1}},
        {"data": {"values": [{"d": "2021-11-22", "v": 192.6, "t": "-26.35%"}]},
          "mark": {"type": "text", "font": "Liberation Sans Narrow, DejaVu Sans Condensed, sans-serif", "fontSize": 26, "color": "#e8383d", "align": "center", "baseline": "middle"},
          "encoding": {"text": {"field": "t"}}},
        {"data": {"values": [{"d": "2022-06-20", "d2": "2022-07-09", "v": 196.5, "v2": 205.5}]},
          "mark": {"type": "rect", "color": "#000"},
          "encoding": {"x2": {"field": "d2"}, "y2": {"field": "v2"}}},
        {"data": {"values": [{"d": "2022-06-29", "v": 201, "t": "201.00"}]},
          "mark": {"type": "text", "font": "Liberation Sans Narrow, DejaVu Sans Condensed, sans-serif", "fontSize": 15, "color": "white", "align": "center", "baseline": "middle"},
          "encoding": {"text": {"field": "t"}}},
        {"data": {"values": [{"d": "2021-08-14", "d2": "2021-08-14", "v": 286.5, "v2": 129.9}, {"d": "2022-01-01", "d2": "2022-01-01", "v": 157.2, "v2": 139.2}]},
          "mark": {"type": "rule", "color": "#555", "strokeWidth": 1.3},
          "encoding": {"x2": {"field": "d2"}, "y2": {"field": "v2"}}},
        {"data": {"values": [{"d": "2021-08-15", "v": 132.9, "t": "SPX Index (S&P 500 INDEX) Line Chart Daily 09AUG2021-05JUN2022"}, {"d": "2022-02-02", "v": 132.9, "t": "Copyright© 2026 Bloomberg Finance L.P."}, {"d": "2022-05-22", "v": 132.9, "t": "07-Aug-2026 13:43:39"}]},
          "mark": {"type": "text", "font": "Liberation Sans Narrow, DejaVu Sans Condensed, sans-serif", "fontSize": 15, "color": "#333", "align": "left", "baseline": "middle"},
          "encoding": {"x": {"field": "d", "type": "temporal", "scale": {"domain": [{"year": 2021, "month": 8, "date": 14, "utc": true}, {"year": 2022, "month": 6, "date": 20, "utc": true}]},
            "axis": {"orient": "bottom", "values": [{"year": 2021, "month": 10, "date": 26, "utc": true}, {"year": 2022, "month": 3, "date": 25, "utc": true}], "format": "%Y", "ticks": false, "tickSize": 0, "domain": false, "labelPadding": 42, "labelFont": "Liberation Sans Narrow, DejaVu Sans Condensed, sans-serif", "labelFontSize": 19, "labelColor": "#333", "title": null}},
            "text": {"field": "t"}}}
      ],
      "resolve": {"axis": {"x": "independent"}}
    },
    {
      "width": 791,
      "height": 409,
      "encoding": {
        "x": {"field": "d", "type": "temporal", "scale": {"domain": [{"year": 2025, "month": 8, "date": 22, "utc": true}, {"year": 2026, "month": 9, "date": 7, "utc": true}]}, "axis": null},
        "y": {"field": "v", "type": "quantitative", "scale": {"domain": [346.5, 922.5], "nice": false, "zero": false},
          "axis": {"orient": "right", "values": [400, 500, 600, 700, 800, 900], "labelExpr": "'▸' + datum.label", "ticks": false, "labelPadding": 1, "labelFont": "Liberation Sans Narrow, DejaVu Sans Condensed, sans-serif", "labelFontSize": 17, "labelColor": "#4a4a4a", "labelBaseline": "middle", "domainColor": "#222", "domainWidth": 1.5, "title": null}}
      },
      "layer": [
        {"data": {"name": "gs26"}, "mark": {"type": "line", "interpolate": "step", "color": "#2a2a2a", "strokeWidth": 1.2, "clip": true},
          "encoding": {"x": {"field": "d", "type": "temporal", "scale": {"domain": [{"year": 2025, "month": 8, "date": 22, "utc": true}, {"year": 2026, "month": 9, "date": 7, "utc": true}]},
            "axis": {"orient": "bottom", "values": [{"year": 2025, "month": 9, "date": 1, "utc": true}, {"year": 2025, "month": 10, "date": 1, "utc": true}, {"year": 2025, "month": 11, "date": 1, "utc": true}, {"year": 2025, "month": 12, "date": 1, "utc": true}, {"year": 2026, "month": 1, "date": 1, "utc": true}, {"year": 2026, "month": 2, "date": 1, "utc": true}, {"year": 2026, "month": 3, "date": 1, "utc": true}, {"year": 2026, "month": 4, "date": 1, "utc": true}, {"year": 2026, "month": 5, "date": 1, "utc": true}, {"year": 2026, "month": 6, "date": 1, "utc": true}, {"year": 2026, "month": 7, "date": 1, "utc": true}, {"year": 2026, "month": 8, "date": 1, "utc": true}, {"year": 2026, "month": 9, "date": 1, "utc": true}], "labels": false, "ticks": true, "tickSize": 6, "tickColor": "#333", "tickWidth": 1.2, "domainColor": "#333", "domainWidth": 1.5, "title": null}}}},
        {"data": {"values": [{"d": "2026-09-04", "d2": "2026-09-07", "v": 450, "v2": 450}, {"d": "2026-09-04", "d2": "2026-09-07", "v": 550, "v2": 550}, {"d": "2026-09-04", "d2": "2026-09-07", "v": 650, "v2": 650}, {"d": "2026-09-04", "d2": "2026-09-07", "v": 750, "v2": 750}, {"d": "2026-09-04", "d2": "2026-09-07", "v": 850, "v2": 850}]},
          "mark": {"type": "rule", "color": "#333", "strokeWidth": 1.2},
          "encoding": {"x2": {"field": "d2"}, "y2": {"field": "v2"}}},
        {"data": {"values": [{"d": "2026-06-20", "d2": "2026-07-28", "v": 877.4, "v2": 877.4}, {"d": "2026-06-20", "d2": "2026-07-28", "v": 576, "v2": 576}, {"d": "2026-07-08", "d2": "2026-07-08", "v": 877.4, "v2": 576}, {"d": "2026-06-21", "d2": "2026-06-21", "v": 877.4, "v2": 818}]},
          "mark": {"type": "rule", "color": "#e8383d", "strokeWidth": 2.5, "strokeDash": [7, 5]},
          "encoding": {"x": {"field": "d", "type": "temporal", "scale": {"domain": [{"year": 2025, "month": 8, "date": 22, "utc": true}, {"year": 2026, "month": 9, "date": 7, "utc": true}]},
            "axis": {"orient": "bottom", "values": [{"year": 2025, "month": 9, "date": 14, "utc": true}, {"year": 2025, "month": 10, "date": 14, "utc": true}, {"year": 2025, "month": 11, "date": 14, "utc": true}, {"year": 2025, "month": 12, "date": 14, "utc": true}, {"year": 2026, "month": 1, "date": 14, "utc": true}, {"year": 2026, "month": 2, "date": 14, "utc": true}, {"year": 2026, "month": 3, "date": 14, "utc": true}, {"year": 2026, "month": 4, "date": 14, "utc": true}, {"year": 2026, "month": 5, "date": 14, "utc": true}, {"year": 2026, "month": 6, "date": 14, "utc": true}, {"year": 2026, "month": 7, "date": 14, "utc": true}, {"year": 2026, "month": 8, "date": 14, "utc": true}], "format": "%b", "ticks": false, "tickSize": 0, "domain": false, "labelPadding": 12, "labelFont": "Liberation Sans Narrow, DejaVu Sans Condensed, sans-serif", "labelFontSize": 17, "labelColor": "#333", "title": null}},
            "x2": {"field": "d2"}, "y2": {"field": "v2"}}},
        {"data": {"values": [{"d": "2026-07-16", "d2": "2026-08-02", "v": 885.9, "v2": 788.0}]},
          "mark": {"type": "rule", "color": "#4a1f3d", "strokeWidth": 19, "strokeCap": "butt"},
          "encoding": {"x2": {"field": "d2"}, "y2": {"field": "v2"}}},
        {"data": {"values": [{"d": "2026-07-16", "d2": "2026-08-02", "v": 885.9, "v2": 788.0}]},
          "mark": {"type": "rule", "color": "#c00000", "strokeWidth": 15, "strokeCap": "butt"},
          "encoding": {"x2": {"field": "d2"}, "y2": {"field": "v2"}}},
        {"data": {"values": [{"d": "2026-08-05", "v": 769.1}]},
          "mark": {"type": "point", "shape": "triangle-up", "angle": 153, "size": 1600, "filled": true, "fill": "#c00000", "stroke": "#4a1f3d", "strokeWidth": 1.5, "opacity": 1}},
        {"data": {"values": [{"d": "2026-07-07", "v": 536.6, "t": "-34.71%"}]},
          "mark": {"type": "text", "font": "Liberation Sans Narrow, DejaVu Sans Condensed, sans-serif", "fontSize": 26, "color": "#e8383d", "align": "center", "baseline": "middle"},
          "encoding": {"text": {"field": "t"}}},
        {"data": {"values": [{"d": "2026-09-07", "d2": "2026-10-03", "v": 676.7, "v2": 718.7}]},
          "mark": {"type": "rect", "color": "#000"},
          "encoding": {"x2": {"field": "d2"}, "y2": {"field": "v2"}}},
        {"data": {"values": [{"d": "2026-09-20", "v": 697.67, "t": "697.67"}]},
          "mark": {"type": "text", "font": "Liberation Sans Narrow, DejaVu Sans Condensed, sans-serif", "fontSize": 15, "color": "white", "align": "center", "baseline": "middle"},
          "encoding": {"text": {"field": "t"}}},
        {"data": {"values": [{"d": "2025-02-05", "d2": "2026-03-09", "v": 485.9, "v2": 346.5}]},
          "mark": {"type": "rect", "fill": "#c5d9f0", "stroke": "#333", "strokeWidth": 1.5},
          "encoding": {"x2": {"field": "d2"}, "y2": {"field": "v2"}}},
        {"data": {"values": [{"d": "2025-08-22", "v": 414, "t": "GS High-Beta Momentum Long"}]},
          "mark": {"type": "text", "font": "Lato", "fontSize": 58, "color": "#111", "align": "center", "baseline": "middle"},
          "encoding": {"text": {"field": "t"}}},
        {"data": {"values": [{"d": "2025-08-22", "d2": "2025-08-22", "v": 922.5, "v2": 212.7}, {"d": "2026-01-01", "d2": "2026-01-01", "v": 336.6, "v2": 255.0}, {"d": "2024-04-27", "d2": "2026-10-04", "v": 212.7, "v2": 212.7}]},
          "mark": {"type": "rule", "color": "#555", "strokeWidth": 1.3},
          "encoding": {"x2": {"field": "d2"}, "y2": {"field": "v2"}}},
        {"data": {"values": [{"d": "2025-08-27", "v": 226.7, "t": "SPX Index (S&P 500 INDEX) Line Chart Daily 07AUG2025-07AUG2026"}, {"d": "2026-03-23", "v": 226.7, "t": "Copyright© 2026 Bloomberg Finance L.P."}, {"d": "2026-08-01", "v": 226.7, "t": "07-Aug-2026 13:42:13"}]},
          "mark": {"type": "text", "font": "Liberation Sans Narrow, DejaVu Sans Condensed, sans-serif", "fontSize": 11.5, "color": "#333", "align": "left", "baseline": "middle"},
          "encoding": {"x": {"field": "d", "type": "temporal", "scale": {"domain": [{"year": 2025, "month": 8, "date": 22, "utc": true}, {"year": 2026, "month": 9, "date": 7, "utc": true}]},
            "axis": {"orient": "bottom", "values": [{"year": 2025, "month": 10, "date": 29, "utc": true}, {"year": 2026, "month": 5, "date": 7, "utc": true}], "format": "%Y", "ticks": false, "tickSize": 0, "domain": false, "labelPadding": 42, "labelFont": "Liberation Sans Narrow, DejaVu Sans Condensed, sans-serif", "labelFontSize": 17, "labelColor": "#333", "title": null}},
            "text": {"field": "t"}}}
      ],
      "resolve": {"axis": {"x": "independent"}}
    }
  ]
}
